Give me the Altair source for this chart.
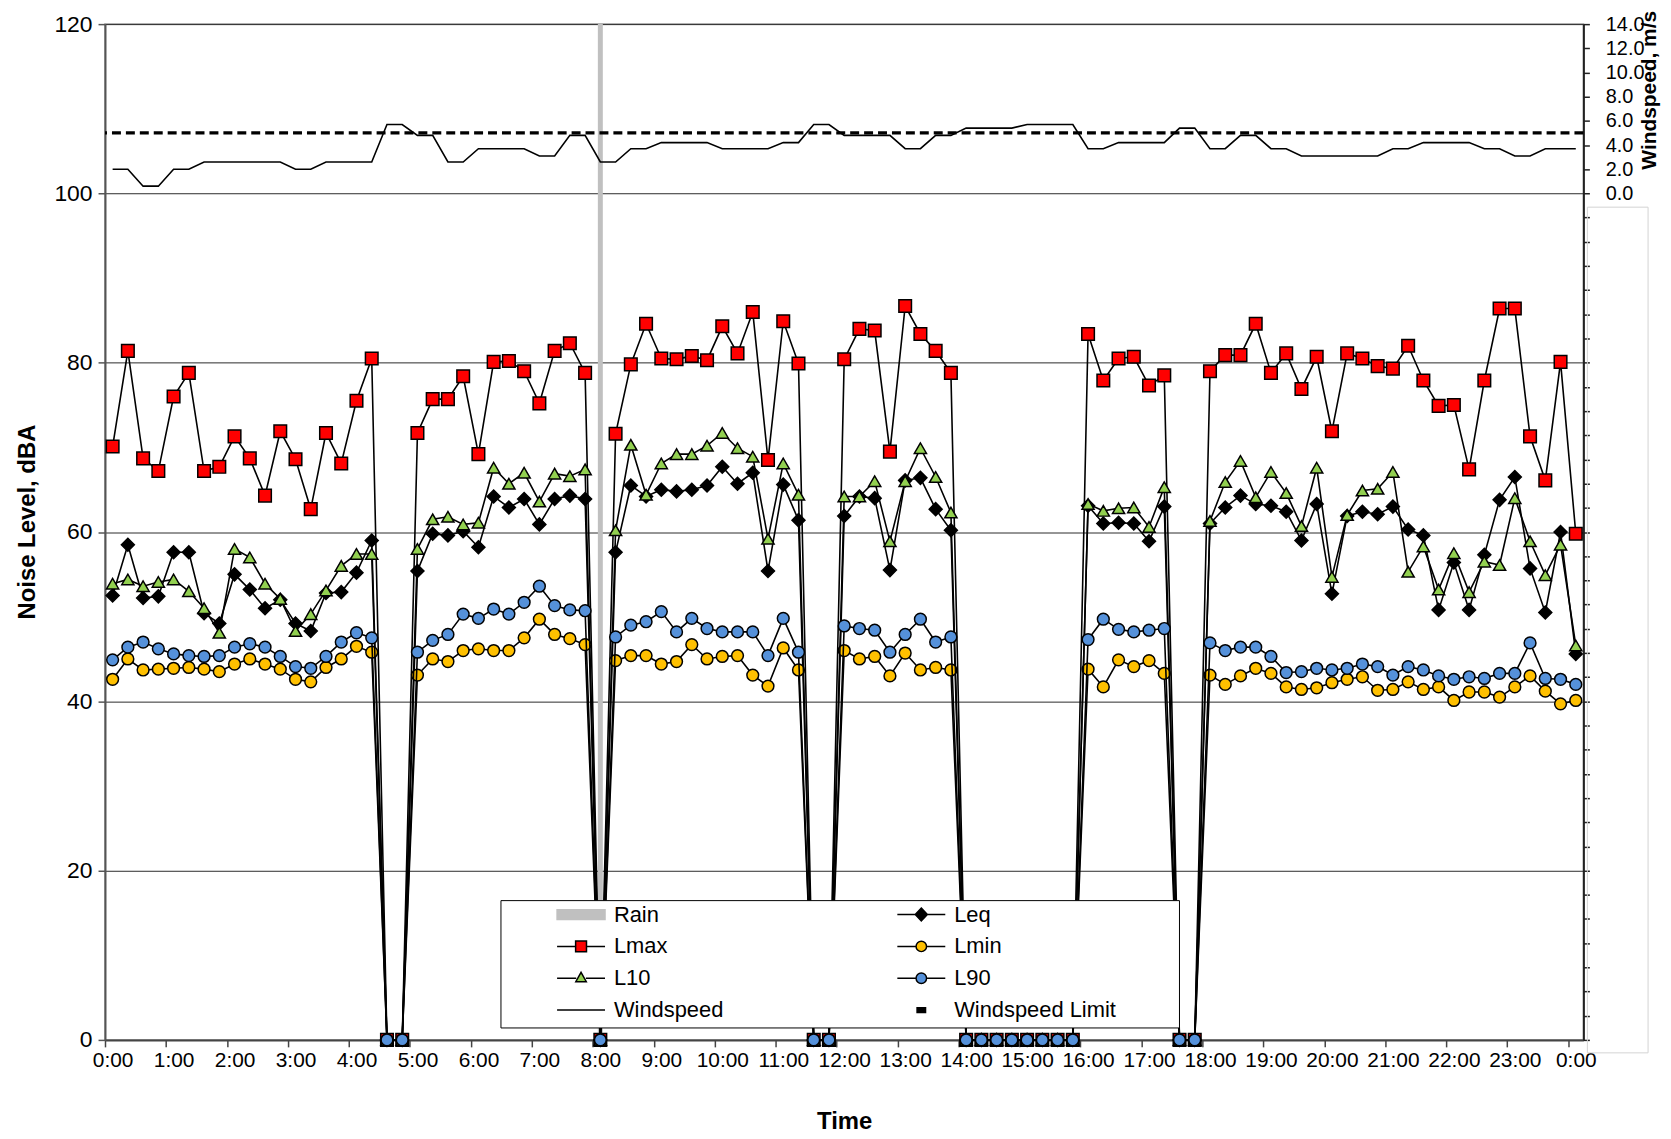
import altair as alt
import pandas as pd

# ---------------- data ----------------
HOURS = [i * 0.25 for i in range(97)]  # 0:00 .. 24:00 in 15-minute steps

LMAX = [70.1, 81.4, 68.7, 67.2, 76.0, 78.8, 67.2, 67.7, 71.3, 68.7, 64.3, 71.9, 68.6, 62.7, 71.7, 68.1, 75.5, 80.5,
        0, 0,
        71.7, 75.7, 75.7, 78.4, 69.2, 80.1, 80.2, 79.0, 75.2, 81.4, 82.3, 78.8,
        0,
        71.6, 79.8, 84.6, 80.5, 80.4, 80.8, 80.3, 84.3, 81.1, 86.0, 68.5, 84.9, 79.9,
        0, 0,
        80.4, 84.0, 83.8, 69.5, 86.7, 83.4, 81.4, 78.8,
        0, 0, 0, 0, 0, 0, 0, 0,
        83.4, 77.9, 80.5, 80.7, 77.3, 78.5,
        0, 0,
        79.0, 80.9, 80.9, 84.6, 78.8, 81.1, 76.9, 80.7, 71.9, 81.1, 80.5, 79.6, 79.3, 82.0, 77.9, 74.9,
        75.0, 67.4, 77.9, 86.4, 86.4, 71.3, 66.1, 80.1, 59.8]

L10 = [53.9, 54.4, 53.6, 54.1, 54.4, 53.0, 51.0, 48.1, 58.0, 57.0, 53.9, 52.1, 48.3, 50.3, 53.1, 56.0, 57.4, 57.4,
       0, 0,
       58.0, 61.5, 61.8, 60.9, 61.1, 67.6, 65.7, 67.0, 63.6, 66.9, 66.6, 67.4,
       0,
       60.2, 70.3, 64.4, 68.1, 69.2, 69.2, 70.2, 71.7, 69.9, 68.9, 59.2, 68.1, 64.4,
       0, 0,
       64.2, 64.2, 66.0, 58.9, 66.0, 69.9, 66.5, 62.3,
       0, 0, 0, 0, 0, 0, 0, 0,
       63.3, 62.5, 62.8, 62.9, 60.6, 65.3,
       0, 0,
       61.3, 65.9, 68.4, 64.1, 67.1, 64.6, 60.7, 67.6, 54.7, 62.0, 64.9, 65.1, 67.1, 55.3, 58.3, 53.2,
       57.5, 52.9, 56.5, 56.1, 64.0, 58.9, 54.9, 58.5, 46.6]

LEQ = [52.5, 58.5, 52.2, 52.4, 57.6, 57.6, 50.4, 49.2, 55.0, 53.2, 51.0, 52.0, 49.2, 48.3, 52.8, 52.9, 55.2, 59.0,
       0, 0,
       55.4, 59.8, 59.6, 60.1, 58.2, 64.2, 62.9, 63.9, 60.9, 63.9, 64.3, 63.9,
       0,
       57.6, 65.5, 64.2, 65.0, 64.8, 65.0, 65.5, 67.7, 65.7, 67.0, 55.4, 65.6, 61.4,
       0, 0,
       61.9, 64.2, 64.0, 55.5, 66.1, 66.4, 62.7, 60.2,
       0, 0, 0, 0, 0, 0, 0, 0,
       63.1, 61.0, 61.1, 61.0, 58.9, 63.0,
       0, 0,
       61.0, 62.9, 64.3, 63.3, 63.1, 62.4, 59.0, 63.3, 52.7, 61.9, 62.4, 62.1, 63.0, 60.3, 59.6, 50.8,
       56.4, 50.8, 57.3, 63.8, 66.5, 55.7, 50.5, 60.0, 45.6]

L90 = [44.9, 46.4, 47.0, 46.2, 45.6, 45.4, 45.3, 45.4, 46.4, 46.8, 46.4, 45.3, 44.1, 43.9, 45.3, 47.0, 48.1, 47.5,
       0, 0,
       45.8, 47.2, 47.9, 50.3, 49.8, 50.9, 50.3, 51.7, 53.6, 51.3, 50.8, 50.7,
       0,
       47.6, 49.0, 49.4, 50.6, 48.2, 49.8, 48.6, 48.2, 48.2, 48.2, 45.4, 49.8, 45.8,
       0, 0,
       48.9, 48.6, 48.4, 45.8, 47.9, 49.7, 47.0, 47.6,
       0, 0, 0, 0, 0, 0, 0, 0,
       47.3, 49.7, 48.5, 48.2, 48.4, 48.6,
       0, 0,
       46.9, 46.0, 46.4, 46.4, 45.3, 43.4, 43.5, 43.9, 43.7, 43.9, 44.4, 44.1, 43.1, 44.1, 43.7, 43.0,
       42.6, 42.9, 42.7, 43.3, 43.3, 46.9, 42.7, 42.6, 42.0]

LMIN = [42.6, 45.0, 43.7, 43.8, 43.9, 44.0, 43.8, 43.5, 44.4, 45.0, 44.4, 43.8, 42.6, 42.3, 44.0, 45.0, 46.5, 45.8,
        0, 0,
        43.1, 45.0, 44.7, 46.0, 46.2, 46.0, 46.0, 47.5, 49.7, 47.9, 47.4, 46.7,
        0,
        44.8, 45.4, 45.4, 44.4, 44.7, 46.7, 45.0, 45.3, 45.4, 43.1, 41.8, 46.3, 43.7,
        0, 0,
        46.0, 45.0, 45.3, 43.0, 45.7, 43.7, 44.0, 43.7,
        0, 0, 0, 0, 0, 0, 0, 0,
        43.8, 41.7, 44.9, 44.1, 44.8, 43.3,
        0, 0,
        43.1, 42.0, 43.0, 43.9, 43.3, 41.7, 41.4, 41.6, 42.2, 42.6, 42.9, 41.3, 41.4, 42.3, 41.4, 41.7,
        40.1, 41.1, 41.1, 40.5, 41.7, 43.0, 41.2, 39.7, 40.1]

WIND = [2.0, 2.0, 0.6, 0.6, 2.0, 2.0, 2.6, 2.6, 2.6, 2.6, 2.6, 2.6, 2.0, 2.0, 2.6, 2.6, 2.6, 2.6,
        5.7, 5.7, 4.8, 4.8, 2.6, 2.6, 3.7, 3.7, 3.7, 3.7, 3.1, 3.1, 4.8, 4.8,
        2.6, 2.6, 3.7, 3.7, 4.2, 4.2, 4.2, 4.2, 3.7, 3.7, 3.7, 3.7, 4.2, 4.2, 5.7, 5.7,
        4.8, 4.8, 4.8, 4.8, 3.7, 3.7, 4.8, 4.8, 5.4, 5.4, 5.4, 5.4, 5.7, 5.7, 5.7, 5.7,
        3.7, 3.7, 4.2, 4.2, 4.2, 4.2, 5.4, 5.4, 3.7, 3.7, 4.8, 4.8, 3.7, 3.7, 3.1, 3.1,
        3.1, 3.1, 3.1, 3.1, 3.7, 3.7, 4.2, 4.2, 4.2, 4.2, 3.7, 3.7, 3.1, 3.1, 3.7, 3.7, 3.7]

RAIN_HOURS = [8.0]
WIND_LIMIT = 5.0
HOUR_LABELS = list(range(25))  # 0:00 ... 0:00 (next day)

# legend is filled column by column: left column first, then right column
LEGEND_NAMES = ["Rain", "Lmax", "L10", "Windspeed", "Leq", "Lmin", "L90", "Windspeed Limit"]

for arr in (LMAX, L10, LEQ, L90, LMIN, WIND):
    assert len(arr) == len(HOURS)

df = pd.DataFrame({"hour": HOURS, "Lmax": LMAX, "L10": L10, "Leq": LEQ,
                   "L90": L90, "Lmin": LMIN, "Wind": WIND})
rain_df = pd.DataFrame({"hour": RAIN_HOURS})
legend_df = pd.DataFrame({"series": LEGEND_NAMES})

# ---------------- styling ----------------
FONT = "Liberation Sans"
RED = "#FF0000"
GREEN = "#92D050"
GOLD = "#FFC000"
BLUE = "#5591DA"
GREY = "#C0C0C0"

HALF = 0.125  # half a 15-minute category, in hours
x_scale = alt.Scale(domain=[-HALF, 24 + HALF], nice=False, zero=False)
x_axis = alt.Axis(
    values=[h - HALF for h in HOUR_LABELS],
    labelExpr="(round(datum.value + 0.125) % 24) + ':00'",
    labelOffset=7.7, labelFlush=False, labelOverlap=False,
    labelFont=FONT, labelFontSize=21, labelColor="black", labelPadding=3,
    tickSize=7, tickColor="#444", tickWidth=1.5,
    domainColor="#444", domainWidth=2, grid=False,
    title="Time", titleFont=FONT, titleFontSize=24, titleFontWeight="bold",
    titleColor="black", titleY=82, titleBaseline="middle",
)

y_scale = alt.Scale(domain=[0, 120], nice=False, zero=True)
y_axis = alt.Axis(
    values=[0, 20, 40, 60, 80, 100, 120], orient="left",
    grid=True, gridColor="#2a2a2a", gridWidth=1,
    domainColor="#555", domainWidth=2, tickColor="#555", tickWidth=1.5, tickSize=7,
    labelFont=FONT, labelFontSize=23, labelColor="black", labelPadding=6,
    title="Noise Level, dBA", titleFont=FONT, titleFontSize=24, titleFontWeight="bold",
    titleColor="black", titleAngle=270, titleX=-78, titleY=500,
    titleAlign="center", titleBaseline="middle",
)

w_scale = alt.Scale(domain=[-70, 14], nice=False, zero=False)
w_axis = alt.Axis(
    orient="right", values=list(range(-70, 15, 2)),
    labelExpr="datum.value >= 0 ? format(datum.value, '.1f') : ''",
    grid=False, domainColor="#222", domainWidth=2, tickColor="#222", tickWidth=1.5, tickSize=6,
    labelFont=FONT, labelFontSize=20, labelColor="black", labelPadding=16, labelOverlap=False,
    title="Windspeed, m/s", titleFont=FONT, titleFontSize=21, titleFontWeight="bold",
    titleColor="black", titleAngle=270, titleX=66, titleY=66,
    titleAlign="center", titleBaseline="middle",
)

X = alt.X("hour:Q", scale=x_scale, axis=x_axis)


def series_layers(col, shape, fill, size):
    line = alt.Chart(df).mark_line(color="black", strokeWidth=1.6).encode(
        x=X, y=alt.Y(f"{col}:Q", scale=y_scale, axis=y_axis))
    pts = alt.Chart(df).mark_point(shape=shape, filled=True, fill=fill, stroke="black",
                                   strokeWidth=1.5, size=size, opacity=1).encode(
        x=X, y=alt.Y(f"{col}:Q", scale=y_scale, axis=y_axis))
    return [line, pts]


rain = alt.Chart(rain_df).mark_rule(color=GREY, strokeWidth=5).encode(
    x=X, y=alt.Y(datum=0, scale=y_scale, axis=y_axis), y2=alt.Y2(datum=120))

# legend symbols: a line with the marker in the middle
# symbol box is ~40 px; the line reaches +-1.19 of it (about 48 px)
SYM = {
    "Rain": "M-1.19,-0.24H1.19V0.24H-1.19Z",
    "Leq": "M-1.19,0H-0.3M0.3,0H1.19M0,-0.32L0.3,0L0,0.32L-0.3,0Z",
    "Lmax": "M-1.19,0H-0.27M0.27,0H1.19M-0.27,-0.27H0.27V0.27H-0.27Z",
    "Lmin": "M-1.19,0H-0.26M0.26,0H1.19M-0.26,0A0.26 0.26 0 1 1 0.26,0A0.26 0.26 0 1 1 -0.26,0Z",
    "L10": "M-1.19,0H-0.24M0.24,0H1.19M0,-0.29L0.26,0.17L-0.26,0.17Z",
    "L90": "M-1.19,0H-0.26M0.26,0H1.19M-0.26,0A0.26 0.26 0 1 1 0.26,0A0.26 0.26 0 1 1 -0.26,0Z",
    "Windspeed": "M-1.19,0H1.19",
    "Windspeed Limit": "M-0.21,-0.12H0.21V0.12H-0.21Z",
}
FILL = {"Rain": GREY, "Leq": "black", "Lmax": RED, "Lmin": GOLD, "L10": GREEN,
        "L90": BLUE, "Windspeed": "black", "Windspeed Limit": "black"}
PATHS = [SYM[n] for n in LEGEND_NAMES]
FILLS = [FILL[n] for n in LEGEND_NAMES]
STROKES = [GREY if n == "Rain" else "black" for n in LEGEND_NAMES]

legend = alt.Legend(
    orient="none", legendX=457.5, legendY=874, columns=2, title=None,
    labelFont=FONT, labelFontSize=22, labelColor="black", labelOffset=12, labelLimit=400,
    symbolSize=1640, symbolStrokeWidth=1.5, symbolOpacity=1,
    columnPadding=170, rowPadding=0, padding=0,
)

legend_layer = alt.Chart(legend_df).mark_point(filled=True, opacity=0).encode(
    x=alt.value(0), y=alt.value(0),
    fill=alt.Fill("series:N", scale=alt.Scale(domain=LEGEND_NAMES, range=FILLS), legend=legend),
    shape=alt.Shape("series:N", scale=alt.Scale(domain=LEGEND_NAMES, range=PATHS), legend=legend),
    stroke=alt.Stroke("series:N", scale=alt.Scale(domain=LEGEND_NAMES, range=STROKES), legend=legend),
)

noise_layers = [rain]
noise_layers += series_layers("Leq", "diamond", "black", 170)
noise_layers += series_layers("Lmax", "square", RED, 160)
noise_layers += series_layers("Lmin", "circle", GOLD, 140)
noise_layers += series_layers("L10", "triangle-up", GREEN, 150)
noise_layers += series_layers("L90", "circle", BLUE, 140)
noise_layers.append(legend_layer)
noise = alt.layer(*noise_layers)

wind_line = alt.Chart(df).mark_line(color="black", strokeWidth=1.6).encode(
    x=X, y=alt.Y("Wind:Q", scale=w_scale, axis=w_axis))
limit_rule = alt.Chart(rain_df).mark_rule(color="black", strokeWidth=3.2, strokeDash=[9, 5]).encode(
    y=alt.Y(datum=WIND_LIMIT, scale=w_scale, axis=w_axis))
wind = alt.layer(wind_line, limit_rule)

legend_box = alt.Chart(rain_df).mark_rect(fill="white", stroke="black", strokeWidth=1).encode(
    x=alt.value(398), x2=alt.value(1080), y=alt.value(881), y2=alt.value(1009))

side_box = alt.Chart(rain_df).mark_rect(fill=None, stroke="#d4d4d4", strokeWidth=1).encode(
    x=alt.value(1490), x2=alt.value(1551), y=alt.value(184), y2=alt.value(1034))

chart = alt.layer(noise, wind, legend_box, side_box).resolve_scale(
    y="independent"
).properties(
    width=1486, height=1021,
    autosize=alt.AutoSizeParams(type="none"),
    padding={"left": 97.5, "top": 13.3, "right": 80, "bottom": 97},
    background="white",
).configure_view(stroke="#999", strokeWidth=1.5)

chart.save("out.html", embed_options={"renderer": "svg", "actions": False})
